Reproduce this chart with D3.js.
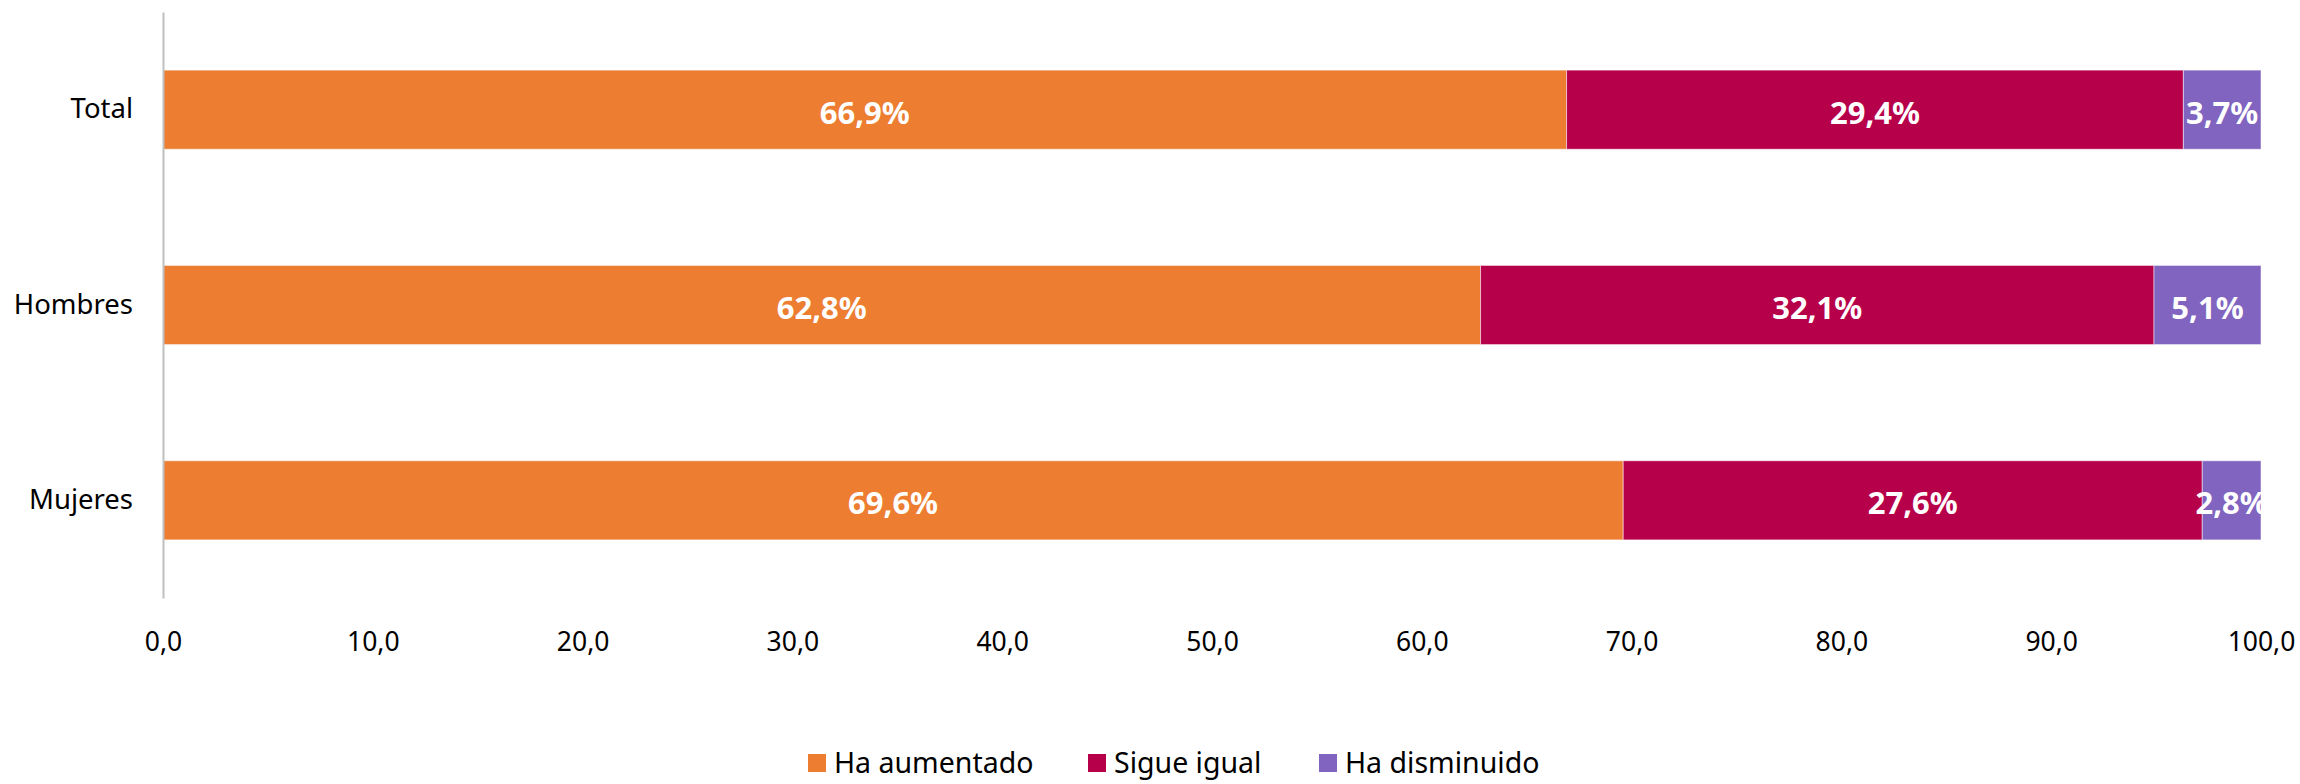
<!DOCTYPE html>
<html>
<head>
<meta charset="utf-8">
<script src="https://cdn.jsdelivr.net/npm/d3@7"></script>
<style>
  body { margin: 0; background: #fff; }
  svg text { font-family: "Segoe UI", "Noto Sans", sans-serif; }
</style>
</head>
<body>
<svg id="chart" width="2300" height="784"></svg>
<script>
// data
const categories = ["Total", "Hombres", "Mujeres"];
const seriesNames = ["Ha aumentado", "Sigue igual", "Ha disminuido"];
const aumentado = [66.9, 62.8, 69.6];
const igual = [29.4, 32.1, 27.6];
const disminuido = [3.7, 5.1, 2.8];
const xTicks = [0, 10, 20, 30, 40, 50, 60, 70, 80, 90, 100];
const colors = ["#ED7D31", "#B7004A", "#8064BF"];

const svg = d3.select("#chart");
const plotLeft = 163, plotRight = 2261, plotTop = 12, plotBottom = 598;

const x = d3.scaleLinear().domain([0, 100]).range([plotLeft, plotRight]);
const y = d3.scaleBand().domain(categories).range([plotTop, plotBottom])
    .paddingInner(0.595).paddingOuter(0.2975);

const rows = categories.map((c, i) => ({
    cat: c, values: [aumentado[i], igual[i], disminuido[i]]
}));
const stack = d3.stack().keys([0, 1, 2]).value((d, k) => d.values[k]);
const layers = stack(rows);

const fmt = v => d3.format(".1f")(v).replace(".", ",");

// bars
layers.forEach((layer, k) => {
    svg.append("g").selectAll("rect")
        .data(layer)
        .enter().append("rect")
        .attr("x", d => x(d[0]))
        .attr("y", d => y(d.data.cat))
        .attr("width", d => x(d[1]) - x(d[0]))
        .attr("height", y.bandwidth())
        .attr("fill", colors[k])
        .attr("stroke", "#fff")
        .attr("stroke-opacity", 0.5)
        .attr("stroke-width", 1);
});

// data labels
layers.forEach((layer, k) => {
    svg.append("g").selectAll("text")
        .data(layer)
        .enter().append("text")
        .attr("x", d => (x(d[0]) + x(d[1])) / 2)
        .attr("y", d => y(d.data.cat) + y.bandwidth() / 2 + 2)
        .attr("text-anchor", "middle")
        .attr("dominant-baseline", "central")
        .attr("fill", "#fff")
        .attr("font-weight", "bold")
        .attr("font-size", 31)
        .text(d => fmt(d[1] - d[0]) + "%");
});

// x axis (labels only)
const xAxis = d3.axisBottom(x).tickValues(xTicks).tickSize(0).tickPadding(0).tickFormat(fmt);
const gx = svg.append("g").attr("transform", "translate(0," + 641 + ")").call(xAxis);
gx.select(".domain").remove();
gx.selectAll("text")
    .attr("font-size", 26.5)
    .attr("fill", "#000")
    .attr("dy", null)
    .attr("y", 0)
    .attr("dominant-baseline", "central");

// y axis
const yAxis = d3.axisLeft(y).tickSize(0).tickPadding(30);
const gy = svg.append("g").attr("transform", "translate(" + plotLeft + ",0)").call(yAxis);
gy.select(".domain").attr("stroke", "#BFBFBF").attr("stroke-width", 2);
gy.selectAll("text")
    .attr("font-size", 27.5)
    .attr("fill", "#000")
    .attr("font-family", "'Segoe UI', 'Noto Sans', sans-serif");

// legend
const legendX = [808, 1088, 1319];
const legend = svg.append("g");
seriesNames.forEach((name, k) => {
    legend.append("rect")
        .attr("x", legendX[k]).attr("y", 754)
        .attr("width", 18).attr("height", 18)
        .attr("fill", colors[k]);
    legend.append("text")
        .attr("x", legendX[k] + 26).attr("y", 762)
        .attr("dominant-baseline", "central")
        .attr("font-size", 28.5)
        .attr("fill", "#000")
        .text(name);
});
</script>
</body>
</html>
